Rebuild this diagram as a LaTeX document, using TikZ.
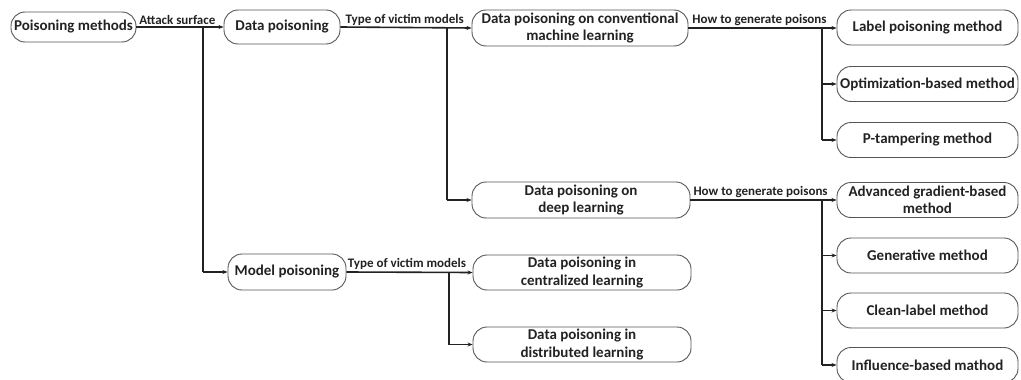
\documentclass[tikz,border=0pt]{standalone}
\usepackage{fontspec}
\setmainfont{Carlito}
\usetikzlibrary{arrows.meta}
\definecolor{ink}{HTML}{222222}
\definecolor{rim}{HTML}{555555}
\begin{document}
\begin{tikzpicture}[x=1pt,y=-1pt,
  box/.style={draw=rim, line width=0.9pt, rounded corners=14pt, align=center,
    font=\fontsize{15}{17.5}\selectfont\bfseries, text=ink, inner sep=0pt,
    minimum height=#1},
  box/.default=34pt,
  link/.style={draw=ink, line width=1.6pt, -{Stealth[length=5pt,width=4pt]}},
  trunk/.style={draw=ink, line width=1.6pt},
  tag/.style={font=\fontsize{13}{14}\selectfont\bfseries, text=ink, inner sep=1.5pt, anchor=south}]
\useasboundingbox (0,0) rectangle (1021,380);

% level 0 and 1
\node[box=30pt, minimum width=125pt] (pm) at (73.5,27) {Poisoning methods};
\node[box, minimum width=116pt] (dp) at (282,27) {Data poisoning};
\node[box=36pt, minimum width=118pt] (mp) at (287,272) {Model poisoning};

% level 2
\node[box=36pt, minimum width=216pt] (conv) at (580,28) {Data poisoning on conventional\\machine learning};
\node[box=36pt, minimum width=218pt] (deep) at (581,200) {Data poisoning on\\deep learning};
\node[box=35pt, minimum width=218pt] (cent) at (582,272.5) {Data poisoning in\\centralized learning};
\node[box=35pt, minimum width=218pt] (dist) at (582,344.5) {Data poisoning in\\distributed learning};

% level 3
\node[box=35pt, minimum width=181pt] (lab) at (927.5,27.5) {Label poisoning method};
\node[box=35pt, minimum width=181pt] (opt) at (927.5,84) {Optimization-based method};
\node[box=35pt, minimum width=181pt] (ptm) at (927.5,140) {P-tampering method};
\node[box=35pt, minimum width=181pt] (adv) at (927.5,200) {Advanced gradient-based\\method};
\node[box=35pt, minimum width=181pt] (gen) at (927.5,255.5) {Generative method};
\node[box=35pt, minimum width=181pt] (cln) at (927.5,310.5) {Clean-label method};
\node[box=35pt, minimum width=181pt] (inf) at (927.5,365) {Influence-based mathod};

% branch points on the main connectors
\coordinate (j1) at (203,27);
\coordinate (j2) at (447,28);
\coordinate (j3) at (822,28);
\coordinate (j4) at (822,200);
\coordinate (j5) at (449,272);

% connectors
\draw[link] (pm.east) -- node[tag, pos=0.47] {Attack surface} (dp.west);
\draw[trunk] (j1) -- (j1 |- mp.west);
\draw[link] (j1 |- mp.west) -- (mp.west);

\draw[link] (dp.east) -- node[tag, pos=0.49] {Type of victim models} (conv.west);
\draw[trunk] (j2) -- (j2 |- deep.west);
\draw[link] (j2 |- deep.west) -- (deep.west);

\draw[link] (mp.east) -- node[tag, pos=0.48] {Type of victim models} (cent.west);
\draw[trunk] (j5) -- (j5 |- dist.west);
\draw[link] (j5 |- dist.west) -- (dist.west);

\draw[link] (conv.east) -- node[tag, pos=0.48] {How to generate poisons} (conv.east -| lab.west);
\draw[trunk] (j3) -- (j3 |- ptm.west);
\draw[link] (j3 |- opt.west) -- (opt.west);
\draw[link] (j3 |- ptm.west) -- (ptm.west);

\draw[link] (deep.east) -- node[tag, pos=0.48] {How to generate poisons} (adv.west);
\draw[trunk] (j4) -- (j4 |- inf.west);
\draw[link] (j4 |- gen.west) -- (gen.west);
\draw[link] (j4 |- cln.west) -- (cln.west);
\draw[link] (j4 |- inf.west) -- (inf.west);
\end{tikzpicture}
\end{document}
